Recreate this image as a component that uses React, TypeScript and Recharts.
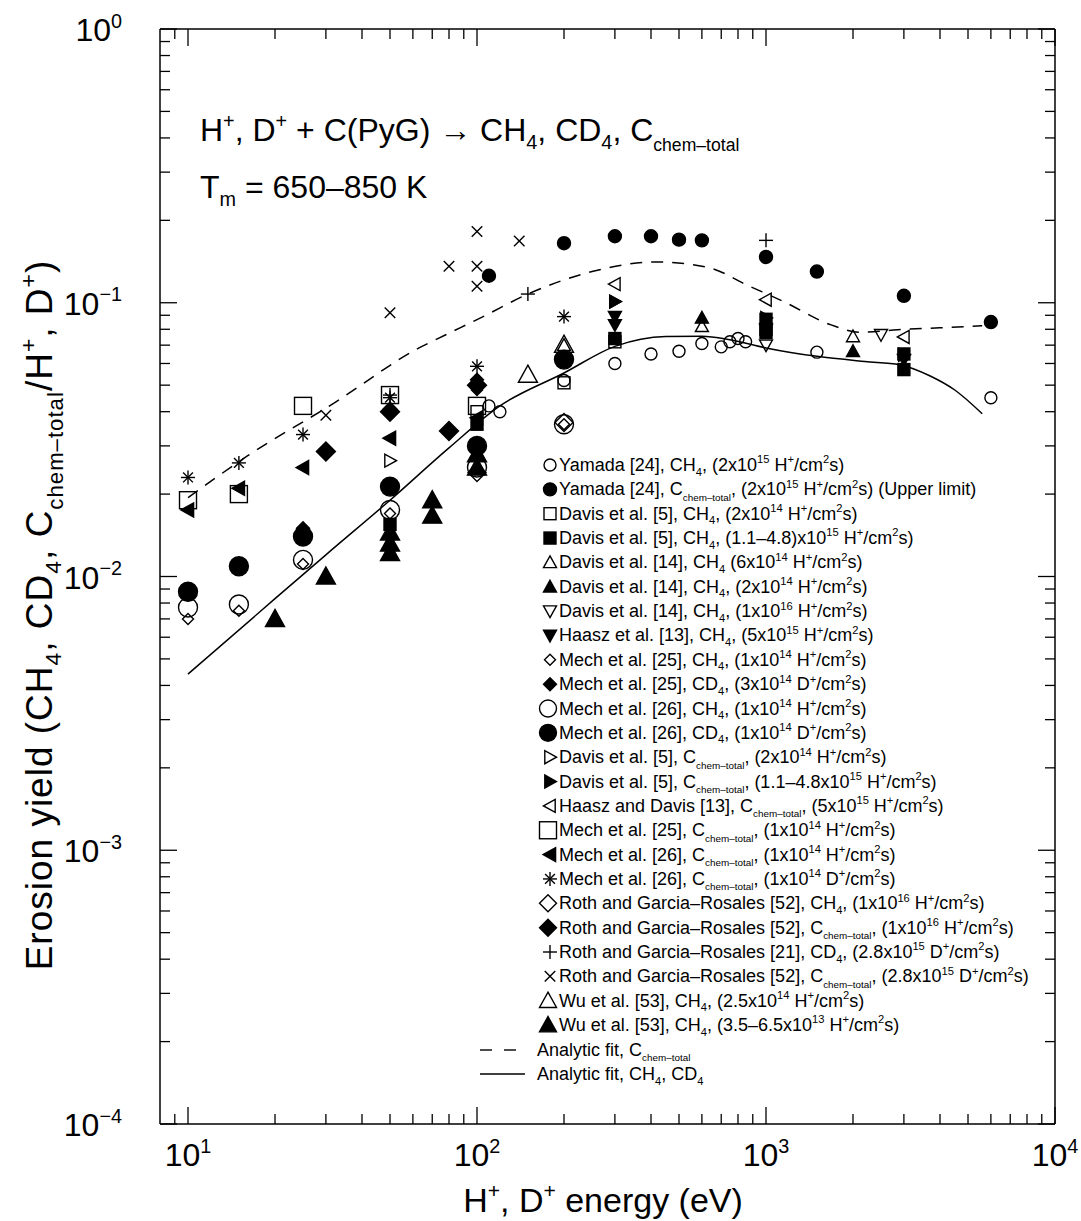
import React from "react";
import { ComposedChart, Scatter, Line, XAxis, YAxis, Customized } from "recharts";

// ---- data: [energy (eV), yield] ----
const yamadaCH4 = [[110, 0.042], [120, 0.040], [200, 0.052], [300, 0.060], [400, 0.065], [500, 0.0665], [600, 0.071], [700, 0.069], [750, 0.072], [800, 0.074], [850, 0.072], [1500, 0.066], [6000, 0.045]];
const yamadaTot = [[110, 0.1255], [200, 0.165], [300, 0.175], [400, 0.175], [500, 0.17], [600, 0.169], [1000, 0.147], [1500, 0.13], [3000, 0.106], [6000, 0.085]];
const davis5CH4 = [[100, 0.040], [200, 0.051], [300, 0.072], [1000, 0.080]];
const davis5CH4Hi = [[50, 0.0155], [100, 0.036], [300, 0.074], [1000, 0.087], [1000, 0.078], [3000, 0.065], [3000, 0.057]];
const davis14a = [[200, 0.070], [600, 0.082], [2000, 0.0753]];
const davis14b = [[50, 0.013], [100, 0.028], [600, 0.088], [2000, 0.0665]];
const davis14c = [[1000, 0.070], [2500, 0.0764]];
const haasz13 = [[300, 0.089], [300, 0.083], [1000, 0.080], [3000, 0.062]];
const mech25CH4 = [[10, 0.0070], [15, 0.0075], [25, 0.0111], [50, 0.017], [100, 0.048], [200, 0.036]];
const mech25CD4 = [[25, 0.015], [50, 0.041], [100, 0.0523]];
const mech26CH4 = [[10, 0.0077], [15, 0.0079], [25, 0.0115], [50, 0.0175], [100, 0.025], [200, 0.036]];
const mech26CD4 = [[10, 0.0088], [15, 0.0109], [25, 0.014], [50, 0.0213], [100, 0.030], [200, 0.062]];
const davis5Tot = [[50, 0.0265], [300, 0.101], [3000, 0.0646]];
const davis5TotHi = [[300, 0.101], [1000, 0.088]];
const haaszDavisTot = [[300, 0.117], [1000, 0.1026], [3000, 0.075]];
const mech25Tot = [[10, 0.019], [15, 0.020], [25, 0.042], [50, 0.046], [100, 0.042]];
const mech26Tot = [[10, 0.0175], [15, 0.021], [25, 0.025], [50, 0.032], [100, 0.038]];
const mech26TotD = [[10, 0.023], [15, 0.026], [25, 0.033], [50, 0.045], [100, 0.0586], [200, 0.089]];
const rothCH4 = [[100, 0.024], [200, 0.0365]];
const rothTot = [[30, 0.0286], [50, 0.040], [80, 0.034], [100, 0.050]];
const rothCD4 = [[50, 0.046], [150, 0.1076], [1000, 0.169]];
const rothTotD = [[30, 0.0388], [50, 0.092], [80, 0.136], [100, 0.182], [100, 0.136], [100, 0.115], [140, 0.168]];
const wuOpen = [[150, 0.0546], [200, 0.0703]];
const wuFilled = [[20, 0.0070], [30, 0.0100], [50, 0.0145], [50, 0.0132], [50, 0.0122], [70, 0.019], [70, 0.0167], [100, 0.028], [100, 0.025]];

// analytic fits, sampled along the drawn curves
const fitCH4E = [10, 20, 30, 50, 80, 120, 200, 300, 450, 600, 750, 1000, 1500, 2200, 2900, 3700, 4500, 5600];
const fitCH4Y = [0.0044, 0.0083, 0.012, 0.019, 0.0295, 0.042, 0.0554, 0.0693, 0.0753, 0.0755, 0.0733, 0.0684, 0.0637, 0.061, 0.0594, 0.054, 0.048, 0.0393];
const fitTotE = [10, 16, 32, 63, 78, 105, 150, 250, 420, 640, 860, 1150, 1680, 2130, 2850, 4000, 5600];
const fitTotY = [0.0194, 0.0275, 0.043, 0.0684, 0.0764, 0.089, 0.1076, 0.13, 0.141, 0.134, 0.116, 0.101, 0.083, 0.078, 0.0797, 0.081, 0.0824];

const xMajor = [10, 100, 1000, 10000];
const yMajor = [0.0001, 0.001, 0.01, 0.1, 1];

const xTicks = [9, ...xMajor.slice(0, 3).flatMap((d) => [1, 2, 3, 4, 5, 6, 7, 8, 9].map((m) => m * d)), 10000];
const yTicks = [...yMajor.slice(0, 4).flatMap((d) => [1, 2, 3, 4, 5, 6, 7, 8, 9].map((m) => m * d)), 1];

const FONT = "'Liberation Sans', Arial, Helvetica, sans-serif";

const toPts = (arr: number[][]) => arr.map(([x, y]) => ({ x, y }));
const fitCH4 = fitCH4E.map((x, i) => ({ x, y: fitCH4Y[i] }));
const fitTot = fitTotE.map((x, i) => ({ x, y: fitTotY[i] }));

type Kind = "circle" | "square" | "up" | "down" | "right" | "left" | "diamond" | "star" | "plus" | "cross";

function Mark({ kind, filled, s, cx, cy }: { kind: Kind; filled?: boolean; s: number; cx: number; cy: number }) {
  const f = filled ? "#000" : "none";
  const h = s / 2;
  const st = { fill: f, stroke: "#000", strokeWidth: 1.4 };
  const poly = (p: number[][]) => <polygon points={p.map(([a, b]) => `${cx + a},${cy + b}`).join(" ")} {...st} />;
  switch (kind) {
    case "circle":
      return <circle cx={cx} cy={cy} r={h} {...st} />;
    case "square":
      return <rect x={cx - h} y={cy - h} width={s} height={s} {...st} />;
    case "up":
      return poly([[0, -h], [h, h * 0.8], [-h, h * 0.8]]);
    case "down":
      return poly([[0, h], [h, -h * 0.8], [-h, -h * 0.8]]);
    case "right":
      return poly([[h, 0], [-h * 0.8, -h], [-h * 0.8, h]]);
    case "left":
      return poly([[-h, 0], [h * 0.8, -h], [h * 0.8, h]]);
    case "diamond":
      return poly([[0, -h], [h, 0], [0, h], [-h, 0]]);
    case "star":
      return (
        <g stroke="#000" strokeWidth={1.4}>
          <line x1={cx - h} y1={cy} x2={cx + h} y2={cy} />
          <line x1={cx} y1={cy - h} x2={cx} y2={cy + h} />
          <line x1={cx - h * 0.7} y1={cy - h * 0.7} x2={cx + h * 0.7} y2={cy + h * 0.7} />
          <line x1={cx - h * 0.7} y1={cy + h * 0.7} x2={cx + h * 0.7} y2={cy - h * 0.7} />
        </g>
      );
    case "plus":
      return (
        <g stroke="#000" strokeWidth={1.4}>
          <line x1={cx - h} y1={cy} x2={cx + h} y2={cy} />
          <line x1={cx} y1={cy - h} x2={cx} y2={cy + h} />
        </g>
      );
    default:
      return (
        <g stroke="#000" strokeWidth={1.4}>
          <line x1={cx - h * 0.75} y1={cy - h * 0.75} x2={cx + h * 0.75} y2={cy + h * 0.75} />
          <line x1={cx - h * 0.75} y1={cy + h * 0.75} x2={cx + h * 0.75} y2={cy - h * 0.75} />
        </g>
      );
  }
}

const series: { data: number[][]; kind: Kind; filled?: boolean; s: number; label: string }[] = [
  { data: yamadaCH4, kind: "circle", s: 12, label: "Yamada [24], CH_{4}, (2x10^{15} H^{+}/cm^{2}s)" },
  { data: yamadaTot, kind: "circle", filled: true, s: 13, label: "Yamada [24], C!{chem–total}, (2x10^{15} H^{+}/cm^{2}s) (Upper limit)" },
  { data: davis5CH4, kind: "square", s: 12, label: "Davis et al. [5], CH_{4}, (2x10^{14} H^{+}/cm^{2}s)" },
  { data: davis5CH4Hi, kind: "square", filled: true, s: 12, label: "Davis et al. [5], CH_{4}, (1.1–4.8)x10^{15} H^{+}/cm^{2}s)" },
  { data: davis14a, kind: "up", s: 13, label: "Davis et al. [14], CH_{4} (6x10^{14} H^{+}/cm^{2}s)" },
  { data: davis14b, kind: "up", filled: true, s: 13, label: "Davis et al. [14], CH_{4}, (2x10^{14} H^{+}/cm^{2}s)" },
  { data: davis14c, kind: "down", s: 13, label: "Davis et al. [14], CH_{4}, (1x10^{16} H^{+}/cm^{2}s)" },
  { data: haasz13, kind: "down", filled: true, s: 13, label: "Haasz et al. [13], CH_{4}, (5x10^{15} H^{+}/cm^{2}s)" },
  { data: mech25CH4, kind: "diamond", s: 11, label: "Mech et al. [25], CH_{4}, (1x10^{14} H^{+}/cm^{2}s)" },
  { data: mech25CD4, kind: "diamond", filled: true, s: 13, label: "Mech et al. [25], CD_{4}, (3x10^{14} D^{+}/cm^{2}s)" },
  { data: mech26CH4, kind: "circle", s: 19, label: "Mech et al. [26], CH_{4}, (1x10^{14} H^{+}/cm^{2}s)" },
  { data: mech26CD4, kind: "circle", filled: true, s: 19, label: "Mech et al. [26], CD_{4}, (1x10^{14} D^{+}/cm^{2}s)" },
  { data: davis5Tot, kind: "right", s: 13, label: "Davis et al. [5], C!{chem–total}, (2x10^{14} H^{+}/cm^{2}s)" },
  { data: davis5TotHi, kind: "right", filled: true, s: 13, label: "Davis et al. [5], C!{chem–total}, (1.1–4.8x10^{15} H^{+}/cm^{2}s)" },
  { data: haaszDavisTot, kind: "left", s: 13, label: "Haasz and Davis [13], C!{chem–total}, (5x10^{15} H^{+}/cm^{2}s)" },
  { data: mech25Tot, kind: "square", s: 17, label: "Mech et al. [25], C!{chem–total}, (1x10^{14} H^{+}/cm^{2}s)" },
  { data: mech26Tot, kind: "left", filled: true, s: 14, label: "Mech et al. [26], C!{chem–total}, (1x10^{14} H^{+}/cm^{2}s)" },
  { data: mech26TotD, kind: "star", s: 14, label: "Mech et al. [26], C!{chem–total}, (1x10^{14} D^{+}/cm^{2}s)" },
  { data: rothCH4, kind: "diamond", s: 18, label: "Roth and Garcia–Rosales [52], CH_{4}, (1x10^{16} H^{+}/cm^{2}s)" },
  { data: rothTot, kind: "diamond", filled: true, s: 19, label: "Roth and Garcia–Rosales [52], C!{chem–total}, (1x10^{16} H^{+}/cm^{2}s)" },
  { data: rothCD4, kind: "plus", s: 14, label: "Roth and Garcia–Rosales [21], CD_{4}, (2.8x10^{15} D^{+}/cm^{2}s)" },
  { data: rothTotD, kind: "cross", s: 14, label: "Roth and Garcia–Rosales [52], C!{chem–total}, (2.8x10^{15} D^{+}/cm^{2}s)" },
  { data: wuOpen, kind: "up", s: 19, label: "Wu et al. [53], CH_{4}, (2.5x10^{14} H^{+}/cm^{2}s)" },
  { data: wuFilled, kind: "up", filled: true, s: 19, label: "Wu et al. [53], CH_{4}, (3.5–6.5x10^{13} H^{+}/cm^{2}s)" },
];

// tiny markup: _{sub} ^{sup} !{small sub}
function Rich({ x, y, text, size, anchor, transform, spacing, small = 0.55 }: { x: number; y: number; text: string; size: number; anchor?: string; transform?: string; spacing?: number; small?: number }) {
  const parts = text.split(/(_\{[^}]*\}|\^\{[^}]*\}|!\{[^}]*\})/).filter(Boolean);
  let off = 0;
  const spans = parts.map((p, i) => {
    let target = 0;
    let fs = size;
    let t = p;
    if (p.startsWith("_{")) {
      target = size * 0.25;
      fs = size * 0.62;
      t = p.slice(2, -1);
    } else if (p.startsWith("!{")) {
      target = size * 0.3;
      fs = size * small;
      t = p.slice(2, -1);
    } else if (p.startsWith("^{")) {
      target = -size * 0.42;
      fs = size * 0.62;
      t = p.slice(2, -1);
    }
    const dy = target - off;
    off = target;
    return (
      <tspan key={i} dy={dy} fontSize={fs}>
        {t}
      </tspan>
    );
  });
  return (
    <text x={x} y={y} fontSize={size} textAnchor={anchor as any} fontFamily={FONT} fill="#000" transform={transform} letterSpacing={spacing}>
      {spans}
    </text>
  );
}

const isMajor = (v: number) => Math.abs(Math.log10(v) - Math.round(Math.log10(v))) < 1e-6;

const BottomTick = (p: any) => {
  const { x, y, payload } = p;
  const v = payload.value;
  const mj = isMajor(v);
  return (
    <g>
      <line x1={x} x2={x} y1={y} y2={y - (mj ? 17 : 10)} stroke="#000" strokeWidth={1.3} />
      {mj && <Rich x={x} y={y + 42} text={`10^{${Math.round(Math.log10(v))}}`} size={32} anchor="middle" />}
    </g>
  );
};
const TopTick = (p: any) => {
  const { x, y, payload } = p;
  const mj = isMajor(payload.value);
  return <line x1={x} x2={x} y1={y} y2={y + (mj ? 17 : 10)} stroke="#000" strokeWidth={1.3} />;
};
const LeftTick = (p: any) => {
  const { x, y, payload } = p;
  const v = payload.value;
  const mj = isMajor(v);
  const e = Math.round(Math.log10(v));
  return (
    <g>
      <line x1={x} x2={x + (mj ? 17 : 10)} y1={y} y2={y} stroke="#000" strokeWidth={1.3} />
      {mj && <Rich x={x - 38} y={y + 12} text={`10^{${e === 0 ? "0" : "−" + Math.abs(e)}}`} size={32} anchor="end" />}
    </g>
  );
};
const RightTick = (p: any) => {
  const { x, y, payload } = p;
  const mj = isMajor(payload.value);
  return <line x1={x} x2={x - (mj ? 17 : 10)} y1={y} y2={y} stroke="#000" strokeWidth={1.3} />;
};

const LEG_Y = 471;
const LEG_DY = 24.35;
const LEG_FS = 18;

function Overlay() {
  return (
    <g>
      <Rich x={200} y={141} text="H^{+}, D^{+} + C(PyG) → CH_{4}, CD_{4}, C!{chem–total}" size={32} />
      <Rich x={200} y={198} text="T_{m} = 650–850 K" size={32} />
      <Rich x={603} y={1212} text="H^{+}, D^{+} energy (eV)" size={34} anchor="middle" />
      <Rich x={0} y={0} text="Erosion yield (CH_{4}, CD_{4}, C!{chem–total}/H^{+}, D^{+})" size={37} small={0.6} spacing={1}
        anchor="middle" transform="translate(52,615) rotate(-90)" />
      {series.map((s, i) => {
        const y = LEG_Y + i * LEG_DY;
        return (
          <g key={i}>
            <Mark kind={s.kind} filled={s.filled} s={Math.min(s.s, 17)} cx={s.s > 15 ? 548 : 550} cy={y - 6} />
            <Rich x={559} y={y} text={s.label} size={LEG_FS} />
          </g>
        );
      })}
      <g stroke="#000" strokeWidth={1.4}>
        <line x1={480} x2={492} y1={1050} y2={1050} />
        <line x1={504} x2={516} y1={1050} y2={1050} />
        <line x1={480} x2={525} y1={1074} y2={1074} />
      </g>
      <Rich x={537} y={1056} text="Analytic fit, C!{chem–total}" size={LEG_FS} />
      <Rich x={537} y={1080} text="Analytic fit, CH_{4}, CD_{4}" size={LEG_FS} />
    </g>
  );
}

export default function App() {
  return (
    <div style={{ position: "absolute", left: 0, top: 0, background: "#fff" }}>
      <ComposedChart width={1081} height={1221} margin={{ top: 0, right: 0, bottom: 0, left: 0 }}>
        <XAxis xAxisId="b" dataKey="x" type="number" scale="log" domain={[8, 10000]} allowDataOverflow ticks={xTicks} interval={0}
          height={97} tickSize={0} tickMargin={0} tick={BottomTick} axisLine={{ stroke: "#000", strokeWidth: 1.5 }} />
        <XAxis xAxisId="t" dataKey="x" orientation="top" type="number" scale="log" domain={[8, 10000]} allowDataOverflow ticks={xTicks} interval={0}
          height={29} tickSize={0} tickMargin={0} tick={TopTick} axisLine={{ stroke: "#000", strokeWidth: 1.5 }} />
        <YAxis yAxisId="l" dataKey="y" type="number" scale="log" domain={[0.0001, 1]} allowDataOverflow ticks={yTicks} interval={0}
          width={160} tickSize={0} tickMargin={0} tick={LeftTick} axisLine={{ stroke: "#000", strokeWidth: 1.5 }} />
        <YAxis yAxisId="r" dataKey="y" orientation="right" type="number" scale="log" domain={[0.0001, 1]} allowDataOverflow ticks={yTicks} interval={0}
          width={26} tickSize={0} tickMargin={0} tick={RightTick} axisLine={{ stroke: "#000", strokeWidth: 1.5 }} />
        <Line xAxisId="b" yAxisId="l" data={fitTot} dataKey="y" type="monotone" dot={false} stroke="#000" strokeWidth={1.5} strokeDasharray="12 9" isAnimationActive={false} />
        <Line xAxisId="b" yAxisId="l" data={fitCH4} dataKey="y" type="monotone" dot={false} stroke="#000" strokeWidth={1.5} isAnimationActive={false} />
        {series.map((s, i) => (
          <Scatter key={i} xAxisId="b" yAxisId="l" data={toPts(s.data)} dataKey="y" isAnimationActive={false}
            shape={(p: any) => <Mark kind={s.kind} filled={s.filled} s={s.s} cx={p.cx} cy={p.cy} />} />
        ))}
        <Customized component={Overlay} />
      </ComposedChart>
    </div>
  );
}
